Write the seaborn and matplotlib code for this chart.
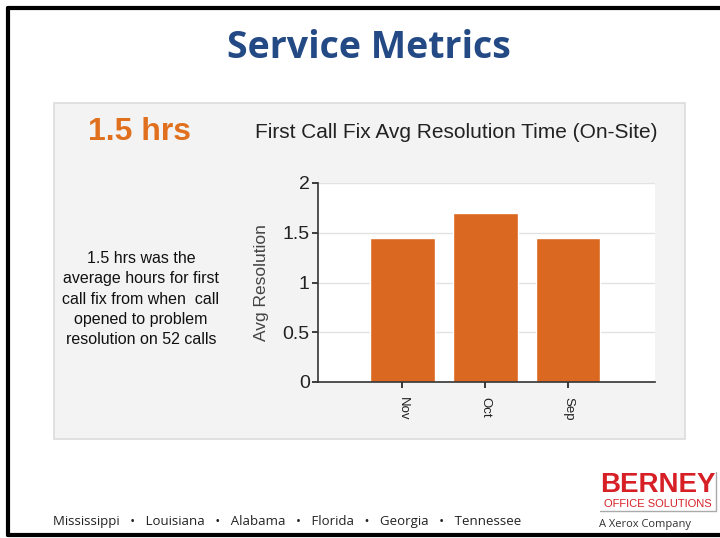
import matplotlib
matplotlib.use("Agg")
import matplotlib.pyplot as plt
import seaborn as sns
from matplotlib.patches import Rectangle
from matplotlib.lines import Line2D

# data
months = ["Nov", "Oct", "Sep"]
avg_resolution = [1.45, 1.70, 1.45]
y_ticks = [0, 0.5, 1, 1.5, 2]
y_tick_labels = ["0", "0.5", "1", "1.5", "2"]
states = ["Mississippi", "Louisiana", "Alabama", "Florida", "Georgia", "Tennessee"]

sns.set_theme(style="white")
plt.rcParams["font.family"] = ["Liberation Sans", "DejaVu Sans"]

W, H = 720, 538
fig = plt.figure(figsize=(W / 100, H / 100), dpi=100)
fig.patch.set_facecolor("white")


def fx(px):
    return px / W


def fy(py):
    return 1 - py / H


# slide border
for x0, y0, x1, y1 in [(8, 8, 720, 8), (8, 8, 8, 535), (8, 535, 720, 535)]:
    fig.add_artist(Line2D([fx(x0), fx(x1)], [fy(y0), fy(y1)], color="black", lw=3))

# grey panel (behind the chart)
fig.add_artist(Rectangle((fx(54), fy(439)), fx(631), 336 / H, facecolor="#f3f3f3",
                         edgecolor="#dcdcdc", lw=1.2, zorder=-5))

fig.text(fx(369), fy(48), "Service Metrics", fontsize=27, fontweight="bold",
         color="#234a85", ha="center", va="center", family=["Open Sans", "DejaVu Sans"])

fig.text(fx(140), fy(132), "1.5 hrs", fontsize=23, fontweight="bold",
         color="#e0701e", ha="center", va="center")
fig.text(fx(456), fy(132), "First Call Fix Avg Resolution Time (On-Site)",
         fontsize=15, color="#222222", ha="center", va="center")
fig.text(fx(141), fy(299),
         "1.5 hrs was the\naverage hours for first\ncall fix from when  call\nopened to problem\nresolution on 52 calls",
         fontsize=11.5, color="#111111", ha="center", va="center", linespacing=1.42)

# chart
ax = fig.add_axes([fx(318), fy(382), fx(337), 199 / H])
ax.set_zorder(2)
sns.barplot(x=months, y=avg_resolution, color="#db6820", width=0.78,
            saturation=1, ax=ax)
ax.set_facecolor("white")
ax.set_xlim(-1.02, 3.05)
ax.set_ylim(0, 2)
ax.set_yticks(y_ticks)
ax.set_yticklabels(y_tick_labels, fontsize=14, color="#222222")
ax.yaxis.grid(True, color="#e2e2e2", lw=1)
ax.set_axisbelow(True)
ax.tick_params(axis="x", labelrotation=-90, labelsize=9.5, colors="#222222",
               length=4, direction="out", bottom=True, pad=7)
ax.tick_params(axis="y", length=4, direction="out", left=True, pad=2)
for s in ["top", "right"]:
    ax.spines[s].set_visible(False)
for s in ["left", "bottom"]:
    ax.spines[s].set_color("#333333")
    ax.spines[s].set_linewidth(1.2)
ax.set_xlabel("")
ax.set_ylabel("Avg Resolution", fontsize=12.5, color="#444444", labelpad=10)

# footer
fig.text(fx(53), fy(521), "   \u2022   ".join(states), fontsize=9.5, color="#222222",
         ha="left", va="center", family=["Open Sans", "DejaVu Sans"])
fig.text(fx(658), fy(485), "BERNEY", fontsize=20, fontweight="bold", color="#d71f26",
         ha="center", va="center")
fig.text(fx(658), fy(504), "OFFICE SOLUTIONS", fontsize=8, color="#d71f26",
         ha="center", va="center", family=["Liberation Sans Narrow", "Liberation Sans"])
fig.add_artist(Line2D([fx(600), fx(716), fx(716)], [fy(511), fy(511), fy(472)],
                      color="#aaaaaa", lw=1))
fig.text(fx(645), fy(525), "A Xerox Company", fontsize=8, color="#333333",
         ha="center", va="center", family=["Open Sans", "DejaVu Sans"])

fig.savefig("out.png", dpi=100)
